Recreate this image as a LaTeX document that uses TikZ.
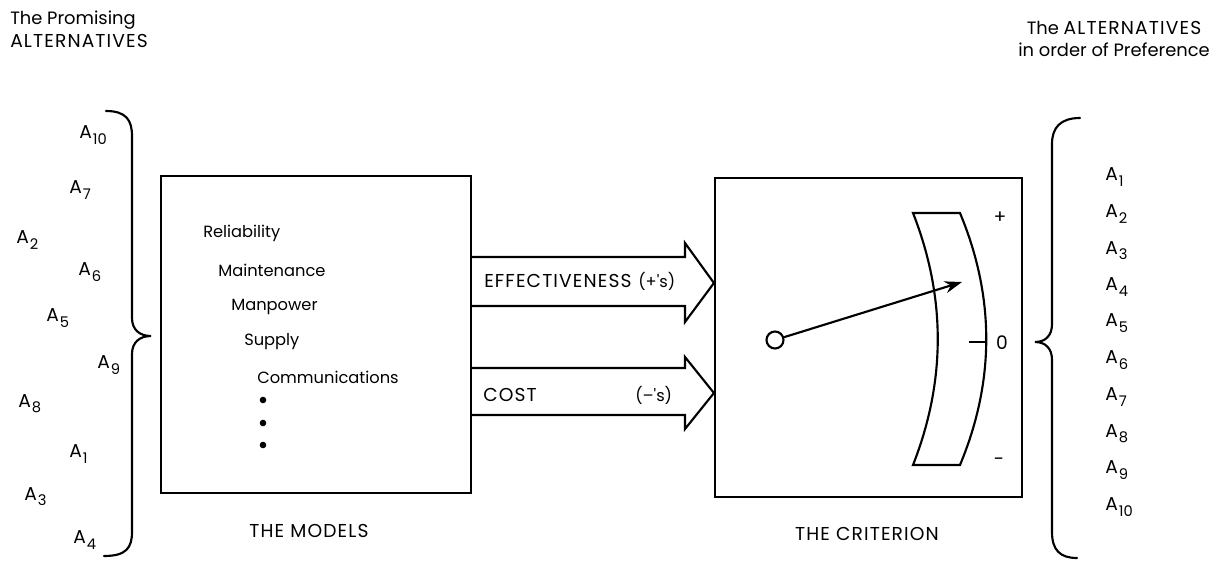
\documentclass[tikz,border=0pt]{standalone}
\usepackage{fontspec}
\setmainfont{Poppins}
\usetikzlibrary{arrows.meta}
\newcommand{\Asb}[1]{A\kern0.8pt\raisebox{-0.5ex}{\fontsize{11}{11}\selectfont #1}}
\newcommand{\caps}[1]{{\addfontfeature{LetterSpace=6}#1}}
\tikzset{
  txt/.style={inner sep=0pt, anchor=west, font=\fontsize{12.2}{15}\selectfont},
  atxt/.style={inner sep=0pt, anchor=west, font=\fontsize{14}{15}\selectfont},
  ctxt/.style={inner sep=0pt, anchor=center, font=\fontsize{14}{15}\selectfont},
  captxt/.style={inner sep=0pt, anchor=west, font=\fontsize{14}{15}\selectfont},
  head/.style={inner sep=0pt, font=\fontsize{13.4}{17}\selectfont},
  line/.style={line width=1.6pt, line join=miter},
  brace/.style={line width=1.6pt, line cap=round},
}
\begin{document}
\begin{tikzpicture}[x=0.75pt,y=-0.75pt]
\useasboundingbox (0,0) rectangle (1225,561);
% headers
\node[head, anchor=west, align=left] (hl) at (10,29) {The Promising\\{\fontsize{14}{17}\selectfont\caps{ALTERNATIVES}}};
\node[head, anchor=center, align=center] (hr) at (1114,39) {The {\fontsize{14}{17}\selectfont\caps{ALTERNATIVES}}\\in order of Preference};
% left list
\node[atxt] (l10) at (79,135) {\Asb{10}};
\node[atxt] (l7) at (69,190) {\Asb{7}};
\node[atxt] (l2) at (16,240) {\Asb{2}};
\node[atxt] (l6) at (78,272) {\Asb{6}};
\node[atxt] (l5) at (46,318) {\Asb{5}};
\node[atxt] (l9) at (97,365) {\Asb{9}};
\node[atxt] (l8) at (18,404) {\Asb{8}};
\node[atxt] (l1) at (69,454) {\Asb{1}};
\node[atxt] (l3) at (24,497) {\Asb{3}};
\node[atxt] (l4) at (73,540) {\Asb{4}};
% left brace
\draw[brace] (106,111) .. controls (126,111) and (132,120) .. (132,136)
  -- (132,318) .. controls (132,330) and (140,336) .. (151,336)
  .. controls (140,336) and (132,342) .. (132,354)
  -- (132,532) .. controls (132,548) and (126,556) .. (104,556);
% models box
\node[draw, line, minimum width=310*0.75pt, minimum height=317*0.75pt, inner sep=0pt] (models) at (316,334.5) {};
\node[txt] (t1) at (203,233) {Reliability};
\node[txt] (t2) at (218,270) {Maintenance};
\node[txt] (t3) at (231,307) {Manpower};
\node[txt] (t4) at (244,342) {Supply};
\node[txt] (t5) at (257,377) {Communications};
\fill (263,400) circle (3.3);
\fill (263,423) circle (3.3);
\fill (263,445) circle (3.3);
\node[ctxt] (lm) at (309,531) {\caps{THE MODELS}};
% criterion box
\node[draw, line, minimum width=307*0.75pt, minimum height=319*0.75pt, inner sep=0pt] (crit) at (868.5,337.5) {};
\node[ctxt] (lc) at (867,534) {\caps{THE CRITERION}};
% block arrows
\draw[line] (models.east |- 0,257) -- (685,257) -- (685,243) -- (crit.west |- 0,283) -- (685,322) -- (685,306) -- (models.east |- 0,306);
\draw[line] (models.east |- 0,368) -- (685,368) -- (685,357) -- (crit.west |- 0,393) -- (685,429) -- (685,415) -- (models.east |- 0,415);
\node[captxt] (eff) at (484,281) {\caps{EFFECTIVENESS}};
\node[txt] (effs) at (638,281) {(+\textquotesingle s)};
\node[captxt] (cost) at (483,395) {\caps{COST}};
\node[txt] (costs) at (635,395) {(--\textquotesingle s)};
% gauge
\draw[line] (913,213) -- (960,213)
  .. controls (995,297) and (995,381) .. (960,465)
  -- (913,465) .. controls (946,381) and (946,297) .. (913,213) -- cycle;
\draw[line] (969,342) -- (986,342);
\node[ctxt] (zero) at (1002,343) {0};
\node[ctxt] (plus) at (1000,218) {+};
\node[ctxt] (minus) at (999,462) {-};
\node[draw, line width=1.6pt, circle, minimum size=17*0.75pt, inner sep=0pt] (piv) at (775,340) {};
\coordinate (tip) at (962,282);
\draw[line width=1.6pt, -{Stealth[length=13pt, width=9pt]}] (piv) -- (tip);
% right brace
\draw[brace] (1080,118) .. controls (1060,118) and (1052,128) .. (1052,144)
  -- (1052,324) .. controls (1052,336) and (1045,342) .. (1035,342)
  .. controls (1045,342) and (1052,348) .. (1052,360)
  -- (1052,532) .. controls (1052,550) and (1060,558) .. (1077,558);
% right list
\node[atxt] (r1) at (1105,177) {\Asb{1}};
\node[atxt] (r2) at (1105,214) {\Asb{2}};
\node[atxt] (r3) at (1105,251) {\Asb{3}};
\node[atxt] (r4) at (1105,287) {\Asb{4}};
\node[atxt] (r5) at (1105,323) {\Asb{5}};
\node[atxt] (r6) at (1105,360) {\Asb{6}};
\node[atxt] (r7) at (1105,397) {\Asb{7}};
\node[atxt] (r8) at (1105,434) {\Asb{8}};
\node[atxt] (r9) at (1105,470) {\Asb{9}};
\node[atxt] (r10) at (1105,507) {\Asb{10}};
\end{tikzpicture}
\end{document}
